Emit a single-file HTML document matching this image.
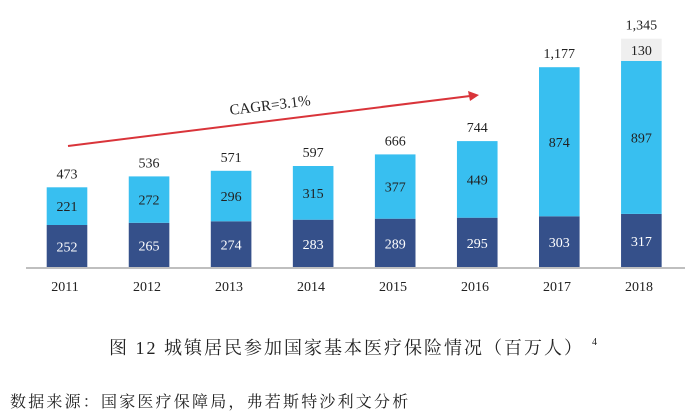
<!DOCTYPE html>
<html><head><meta charset="utf-8"><style>
body{margin:0;background:#fff;}
svg{display:block;}
text{font-family:"Liberation Serif","Noto Serif CJK SC",serif;}
</style></head><body>
<svg width="685" height="417" xmlns="http://www.w3.org/2000/svg">
<g>
<rect x="46.7" y="225" width="40.6" height="43" fill="#35508a"/><rect x="46.7" y="187.3" width="40.6" height="37.7" fill="#38bff0"/>
<rect x="128.75" y="222.8" width="40.6" height="45.2" fill="#35508a"/><rect x="128.75" y="176.4" width="40.6" height="46.4" fill="#38bff0"/>
<rect x="210.8" y="221.3" width="40.6" height="46.7" fill="#35508a"/><rect x="210.8" y="170.8" width="40.6" height="50.5" fill="#38bff0"/>
<rect x="292.85" y="219.7" width="40.6" height="48.3" fill="#35508a"/><rect x="292.85" y="166" width="40.6" height="53.7" fill="#38bff0"/>
<rect x="374.9" y="218.7" width="40.6" height="49.3" fill="#35508a"/><rect x="374.9" y="154.4" width="40.6" height="64.3" fill="#38bff0"/>
<rect x="456.95" y="217.7" width="40.6" height="50.3" fill="#35508a"/><rect x="456.95" y="141.1" width="40.6" height="76.6" fill="#38bff0"/>
<rect x="539" y="216.3" width="40.6" height="51.7" fill="#35508a"/><rect x="539" y="67.2" width="40.6" height="149.1" fill="#38bff0"/>
<rect x="621.05" y="213.9" width="40.6" height="54.1" fill="#35508a"/><rect x="621.05" y="60.9" width="40.6" height="153" fill="#38bff0"/>
<rect x="621.05" y="38.7" width="40.6" height="22.2" fill="#efefef"/>
</g>
<g font-size="14" text-anchor="middle" fill="#fff">
<text x="67" y="251.5">252</text><text x="149.05" y="250.4">265</text><text x="231.1" y="249.6">274</text><text x="313.15" y="248.9">283</text><text x="395.2" y="248.4">289</text><text x="477.25" y="247.9">295</text><text x="559.3" y="247.2">303</text><text x="641.35" y="246">317</text>
</g>
<g font-size="14" text-anchor="middle" fill="#222">
<text x="67" y="211.2">221</text><text x="149.05" y="204.6">272</text><text x="231.1" y="201">296</text><text x="313.15" y="197.8">315</text><text x="395.2" y="191.6">377</text><text x="477.25" y="184.4">449</text><text x="559.3" y="146.8">874</text><text x="641.35" y="142.4">897</text>
<text x="641.35" y="54.8">130</text>
<text x="67" y="178.3">473</text><text x="149.05" y="167.4">536</text><text x="231.1" y="161.8">571</text><text x="313.15" y="157">597</text><text x="395.2" y="145.4">666</text><text x="477.25" y="132.1">744</text><text x="559.3" y="58.2">1,177</text><text x="641.35" y="29.7">1,345</text>
<text x="65" y="291">2011</text><text x="147" y="291">2012</text><text x="229" y="291">2013</text><text x="311" y="291">2014</text><text x="393" y="291">2015</text><text x="475" y="291">2016</text><text x="557" y="291">2017</text><text x="639" y="291">2018</text>
</g>
<line x1="26" y1="268" x2="685" y2="268" stroke="#bfbfbf" stroke-width="2"/>
<line x1="68" y1="146" x2="470" y2="96" stroke="#d9343a" stroke-width="2"/>
<polygon points="479,95 468,91 470,101" fill="#d9343a"/>
<text x="270" y="110" font-size="15" text-anchor="middle" transform="rotate(-7 270 105)" fill="#222">CAGR=3.1%</text>
<text x="109" y="354" font-size="18" letter-spacing="2" fill="#222">图 12  城镇居民参加国家基本医疗保险情况（百万人）</text>
<text x="592" y="345" font-size="10" fill="#222">4</text>
<text x="10" y="407" font-size="16" letter-spacing="2.2" fill="#222">数据来源：国家医疗保障局，弗若斯特沙利文分析</text>
</svg>
</body></html>
